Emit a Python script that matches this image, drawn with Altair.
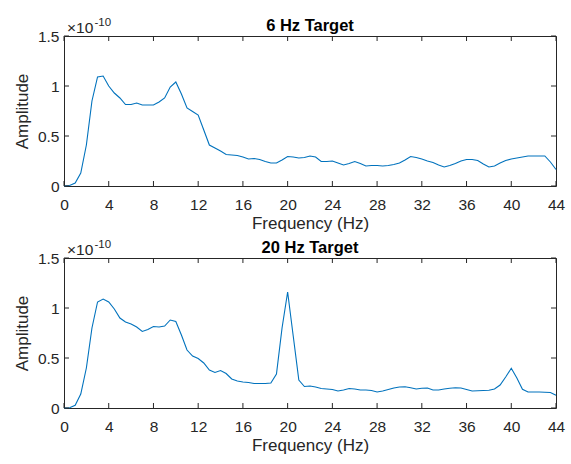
import altair as alt
import pandas as pd

# Frequencies (Hz), 0.5 Hz resolution
freq = [i * 0.5 for i in range(89)]

# Amplitudes in units of 1e-10
amp_6hz = [0.0, 0.005, 0.03, 0.13, 0.41, 0.85, 1.09, 1.10, 1.0, 0.93,
           0.88, 0.815, 0.815, 0.83, 0.81, 0.81, 0.81, 0.84, 0.88, 0.99,
           1.04, 0.92, 0.78, 0.745, 0.71, 0.56, 0.41, 0.38, 0.35, 0.315,
           0.31, 0.305, 0.29, 0.27, 0.275, 0.265, 0.245, 0.23, 0.23, 0.26,
           0.295, 0.29, 0.28, 0.285, 0.30, 0.29, 0.245, 0.245, 0.25, 0.23,
           0.21, 0.225, 0.245, 0.225, 0.20, 0.205, 0.205, 0.20, 0.205, 0.215,
           0.23, 0.26, 0.295, 0.285, 0.27, 0.25, 0.235, 0.21, 0.19, 0.205,
           0.225, 0.25, 0.265, 0.265, 0.255, 0.22, 0.19, 0.20, 0.23, 0.255,
           0.27, 0.28, 0.29, 0.30, 0.30, 0.30, 0.30, 0.24, 0.165]

amp_20hz = [0.0, 0.003, 0.027, 0.14, 0.40, 0.80, 1.06, 1.09, 1.06, 0.99,
            0.90, 0.86, 0.84, 0.81, 0.765, 0.785, 0.815, 0.81, 0.82, 0.88,
            0.865, 0.73, 0.58, 0.52, 0.495, 0.45, 0.38, 0.355, 0.375, 0.345,
            0.29, 0.27, 0.26, 0.255, 0.245, 0.245, 0.245, 0.25, 0.34, 0.80,
            1.16, 0.72, 0.28, 0.215, 0.22, 0.21, 0.195, 0.19, 0.185, 0.17,
            0.18, 0.195, 0.19, 0.18, 0.18, 0.175, 0.16, 0.17, 0.185, 0.20,
            0.21, 0.213, 0.203, 0.19, 0.197, 0.20, 0.18, 0.18, 0.19, 0.197,
            0.203, 0.20, 0.185, 0.17, 0.172, 0.175, 0.177, 0.19, 0.23, 0.31,
            0.397, 0.30, 0.187, 0.16, 0.16, 0.16, 0.158, 0.155, 0.127]

titles = ["6 Hz Target", "20 Hz Target"]
x_ticks = [0, 4, 8, 12, 16, 20, 24, 28, 32, 36, 40, 44]
y_ticks = [0, 0.5, 1, 1.5]
exp_base = "×10"
exp_power = "-10"

W, H = 492, 150
FONT = "Liberation Sans"
AX = "#262626"
LINE = "#0072BD"

xscale = alt.Scale(domain=[0, 44], nice=False, zero=False)
yscale = alt.Scale(domain=[0, 1.5], nice=False)


def panel(values, title):
    df = pd.DataFrame({"f": freq, "a": values})
    line = alt.Chart(df).mark_line(color=LINE, strokeWidth=1.1).encode(
        x=alt.X("f:Q", scale=xscale,
                axis=alt.Axis(values=x_ticks, title="Frequency (Hz)", format="d",
                              tickSize=0, domain=False, grid=False,
                              labelFlush=False, labelOverlap=False,
                              labelPadding=11, titlePadding=3)),
        y=alt.Y("a:Q", scale=yscale,
                axis=alt.Axis(values=y_ticks, title="Amplitude", format=".1~f",
                              tickSize=0, domain=False, grid=False,
                              labelFlush=False, labelOverlap=False,
                              labelPadding=5, titlePadding=6)),
    )
    xt = pd.DataFrame({"t": x_ticks})
    yt = pd.DataFrame({"t": y_ticks})
    xb = alt.Chart(xt).mark_rule(color=AX, strokeWidth=1).encode(
        x=alt.X("t:Q", scale=xscale, axis=None), y=alt.value(H), y2=alt.value(H - 5))
    xtop = alt.Chart(xt).mark_rule(color=AX, strokeWidth=1).encode(
        x=alt.X("t:Q", scale=xscale, axis=None), y=alt.value(0), y2=alt.value(5))
    yl = alt.Chart(yt).mark_rule(color=AX, strokeWidth=1).encode(
        y=alt.Y("t:Q", scale=yscale, axis=None), x=alt.value(0), x2=alt.value(5))
    yr = alt.Chart(yt).mark_rule(color=AX, strokeWidth=1).encode(
        y=alt.Y("t:Q", scale=yscale, axis=None), x=alt.value(W), x2=alt.value(W - 5))
    tdf = pd.DataFrame({"title": [title], "b": [exp_base], "p": [exp_power]})
    ttl = alt.Chart(tdf).mark_text(font=FONT, fontSize=16.5, fontWeight="bold",
                                   color="#000000", align="center", baseline="alphabetic").encode(
        x=alt.value(W / 2), y=alt.value(-5), text="title:N")
    eb = alt.Chart(tdf).mark_text(font=FONT, fontSize=15.5, color=AX, align="left",
                                  baseline="alphabetic").encode(
        x=alt.value(3), y=alt.value(-3), text="b:N")
    ep = alt.Chart(tdf).mark_text(font=FONT, fontSize=11.5, color=AX, align="left",
                                  baseline="alphabetic").encode(
        x=alt.value(30.5), y=alt.value(-10), text="p:N")
    return alt.layer(line, xb, xtop, yl, yr, ttl, eb, ep).resolve_axis(
        x="independent", y="independent").properties(width=W, height=H)


chart = alt.vconcat(panel(amp_6hz, titles[0]), panel(amp_20hz, titles[1])).configure(
    font=FONT, padding={"left": 12, "top": 16, "right": 5, "bottom": 5}
).configure_view(stroke=AX, strokeWidth=1).configure_axis(
    labelFont=FONT, titleFont=FONT, labelFontSize=15.5, titleFontSize=17,
    labelColor=AX, titleColor=AX, titleFontWeight="normal"
).configure_concat(spacing=6)

chart.save("out.html", embed_options={"renderer": "svg", "actions": False})
